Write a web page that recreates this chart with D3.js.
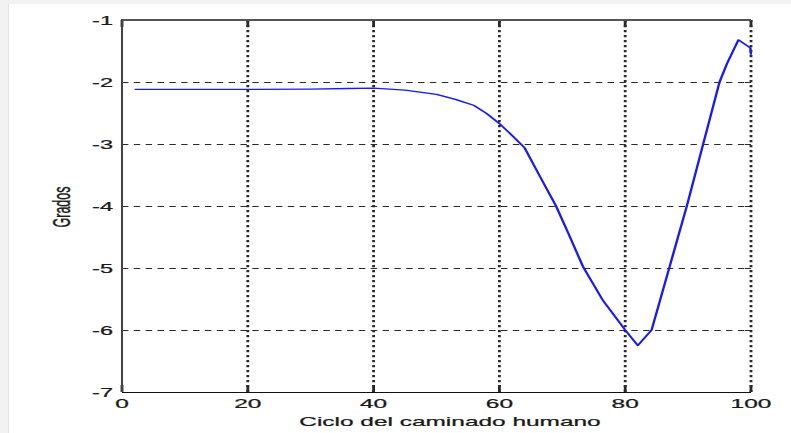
<!DOCTYPE html>
<html>
<head>
<meta charset="utf-8">
<script src="https://cdn.jsdelivr.net/npm/d3@7"></script>
<style>
  html, body { margin: 0; padding: 0; background: #f2f2f2; }
  svg { display: block; }
  text { font-family: "Liberation Sans", Arial, sans-serif; fill: #1a1a1a; stroke: #1a1a1a; stroke-width: 0.25px; }
</style>
</head>
<body>
<svg id="chart" width="791" height="433"></svg>
<script>
// Ángulo (grados) a lo largo del ciclo de la marcha humana (%)
const cycle  = [2, 10, 20, 30, 36, 40, 45, 50, 53, 56, 58, 60, 62, 64, 66.7, 69, 71, 73.3, 76.5, 80, 82, 84.2, 87, 89.8, 92.4, 95, 96.2, 98, 99.9, 100];
const grados = [-2.12, -2.12, -2.12, -2.115, -2.105, -2.10, -2.13, -2.20, -2.28, -2.38, -2.51, -2.67, -2.86, -3.06, -3.57, -4.0, -4.45, -4.98, -5.53, -6.0, -6.25, -6.0, -5.0, -4.0, -3.0, -2.0, -1.7, -1.32, -1.45, -1.56];

const xTicks = [0, 20, 40, 60, 80, 100];
const yTicks = [-1, -2, -3, -4, -5, -6, -7];
const xLabel = "Ciclo del caminado humano";
const yLabel = "Grados";

const W = 791, H = 433;
const SX = 1.88;             // horizontal stretch of the whole figure
const L = 122, R = 751, T = 20, B = 392;

const svg = d3.select("#chart");

// page background and white panel
svg.append("rect").attr("x", 0).attr("y", 0).attr("width", W).attr("height", H).attr("fill", "#f2f2f2");
svg.append("rect").attr("x", 8).attr("y", 4).attr("width", W - 8).attr("height", H - 4).attr("fill", "#ffffff");
svg.append("line").attr("x1", 8.5).attr("x2", 8.5).attr("y1", 4).attr("y2", H).attr("stroke", "#e4e4e4").attr("stroke-width", 1);

// everything in the figure is drawn in a horizontally stretched frame
const g = svg.append("g").attr("transform", `scale(${SX},1)`);

const x = d3.scaleLinear().domain([0, 100]).range([L / SX, R / SX]);
const y = d3.scaleLinear().domain([-7, -1]).range([B, T]);

// horizontal dashed grid
g.append("g").selectAll("line")
  .data(yTicks.filter(v => v !== -1 && v !== -7))
  .join("line")
  .attr("x1", x(0)).attr("x2", x(100))
  .attr("y1", d => y(d) + 0.5).attr("y2", d => y(d) + 0.5)
  .attr("stroke", "#2a2a2a").attr("stroke-width", 1)
  .attr("stroke-dasharray", "3.4,2.9");

// vertical dotted grid
g.append("g").selectAll("line")
  .data(xTicks.filter(v => v !== 0))
  .join("line")
  .attr("x1", d => x(d)).attr("x2", d => x(d))
  .attr("y1", T).attr("y2", B)
  .attr("stroke", "#2a2a2a").attr("stroke-width", 1.5)
  .attr("stroke-dasharray", "2.3,2.7");

// tick marks (inward, top/bottom and left/right)
const tk = g.append("g").attr("stroke", "#2a2a2a").attr("stroke-width", 1.5);
xTicks.forEach(v => {
  tk.append("line").attr("x1", x(v)).attr("x2", x(v)).attr("y1", T).attr("y2", T + 7);
  tk.append("line").attr("x1", x(v)).attr("x2", x(v)).attr("y1", B).attr("y2", B - 7);
});
const tk2 = g.append("g").attr("stroke", "#2a2a2a").attr("stroke-width", 1);
yTicks.forEach(v => {
  tk2.append("line").attr("x1", x(0)).attr("x2", x(0) + 6 / SX).attr("y1", y(v) + 0.5).attr("y2", y(v) + 0.5);
  tk2.append("line").attr("x1", x(100)).attr("x2", x(100) - 6 / SX).attr("y1", y(v) + 0.5).attr("y2", y(v) + 0.5);
});

// axis lines
g.append("line").attr("x1", x(0)).attr("x2", x(100)).attr("y1", T).attr("y2", T)
  .attr("stroke", "#555").attr("stroke-width", 2);
g.append("line").attr("x1", x(0)).attr("x2", x(0)).attr("y1", T - 1).attr("y2", B)
  .attr("stroke", "#444").attr("stroke-width", 1.1);
g.append("line").attr("x1", x(0)).attr("x2", x(100)).attr("y1", B + 0.5).attr("y2", B + 0.5)
  .attr("stroke", "#111").attr("stroke-width", 1);

// curve
const line = d3.line().x((d, i) => x(cycle[i])).y(d => y(d));
g.append("path")
  .datum(grados)
  .attr("d", line)
  .attr("fill", "none")
  .attr("stroke", "#1a1af5")
  .attr("stroke-width", 1.3)
  .attr("stroke-linejoin", "round");

// tick labels
g.append("g").selectAll("text")
  .data(xTicks)
  .join("text")
  .attr("x", d => x(d))
  .attr("y", 408)
  .attr("text-anchor", "middle")
  .attr("font-size", 13)
  .text(d => d);

g.append("g").selectAll("text")
  .data(yTicks)
  .join("text")
  .attr("x", 113 / SX)
  .attr("y", d => y(d) + 5)
  .attr("text-anchor", "end")
  .attr("font-size", 12.5)
  .text(d => d);

// axis titles
g.append("text")
  .attr("x", 450 / SX)
  .attr("y", 426)
  .attr("text-anchor", "middle")
  .attr("font-size", 13)
  .text(xLabel);

g.append("text")
  .attr("transform", `translate(${70 / SX},207) rotate(-90)`)
  .attr("text-anchor", "middle")
  .attr("font-size", 12.5)
  .text(yLabel);
</script>
</body>
</html>
